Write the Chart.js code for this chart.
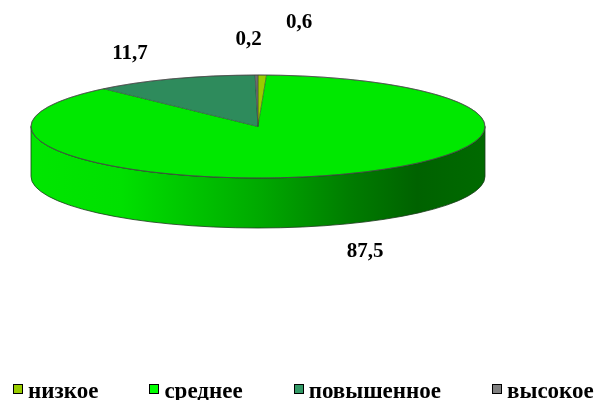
<!DOCTYPE html>
<html>
<head>
<meta charset="utf-8">
<script src="https://cdn.jsdelivr.net/npm/chart.js@4/dist/chart.umd.min.js"></script>
<style>
html,body{margin:0;padding:0;background:#fff;overflow:hidden;}
#wrap{width:596px;height:400px;position:relative;overflow:hidden;}
#legend{position:absolute;left:13px;top:379px;display:flex;gap:51px;white-space:nowrap;
  font:bold 23px/23px "Liberation Serif","Times New Roman",serif;color:#000;}
#legend .box{display:inline-block;width:8px;height:8px;border:1px solid #000;vertical-align:4px;margin-right:5px;}
</style>
</head>
<body>
<div id="wrap"><canvas id="c" width="596" height="400"></canvas><div id="legend"></div></div>
<script>
const categories = ['низкое', 'среднее', 'повышенное', 'высокое'];
const values = [0.6, 87.5, 11.7, 0.2];
const valueLabels = ['0,6', '87,5', '11,7', '0,2'];

const topColors = ['#99cc00', '#00e800', '#2e8b5c', '#6e6e6e'];
const legendColors = ['#99cc00', '#00ff00', '#339966', '#808080'];

const GEO = { cx: 258, cy: 126.5, rx: 227, ry: 51.5, depth: 50 };
const LABEL_POS = [[299, 23], [365, 252], [130, 54], [248.5, 39.5]];

const pie3d = {
  id: 'pie3d',
  beforeDatasetsDraw(chart) {
    const ctx = chart.ctx;
    const arcs = chart.getDatasetMeta(0).data;
    const { cx, cy, rx, ry, depth } = GEO;
    arcs.forEach((arc) => {
      const a1 = Math.max(arc.startAngle, 0);
      const a2 = Math.min(arc.endAngle, Math.PI);
      if (a2 <= a1) return;
      const g = ctx.createLinearGradient(cx - rx, 0, cx + rx, 0);
      g.addColorStop(0, '#00e600');
      g.addColorStop(0.2, '#00e000');
      g.addColorStop(0.5, '#00aa00');
      g.addColorStop(0.7, '#007d00');
      g.addColorStop(0.85, '#006200');
      g.addColorStop(1, '#006a00');
      ctx.save();
      ctx.beginPath();
      ctx.moveTo(cx + rx * Math.cos(a1), cy + ry * Math.sin(a1));
      ctx.ellipse(cx, cy, rx, ry, 0, a1, a2, false);
      ctx.lineTo(cx + rx * Math.cos(a2), cy + ry * Math.sin(a2) + depth);
      ctx.ellipse(cx, cy + depth, rx, ry, 0, a2, a1, true);
      ctx.closePath();
      ctx.fillStyle = g;
      ctx.fill();
      ctx.lineWidth = 0.8;
      ctx.strokeStyle = '#1a3a1a';
      ctx.stroke();
      ctx.restore();
    });
    const a0 = arcs[0];
    const R = a0.outerRadius;
    ctx.save();
    ctx.translate(cx, cy);
    ctx.scale(rx / R, ry / R);
    ctx.translate(-a0.x, -a0.y);
  },
  afterDatasetsDraw(chart) {
    const ctx = chart.ctx;
    ctx.restore();
    const { cx, cy, rx, ry } = GEO;
    ctx.save();
    ctx.beginPath();
    ctx.ellipse(cx, cy, rx, ry, 0, 0, Math.PI * 2);
    ctx.lineWidth = 0.8;
    ctx.strokeStyle = '#4a4a4a';
    ctx.stroke();
    ctx.restore();
  },
  afterDraw(chart) {
    const ctx = chart.ctx;
    ctx.save();
    ctx.font = 'bold 21px "Liberation Serif", "Times New Roman", serif';
    ctx.fillStyle = '#000';
    ctx.textAlign = 'center';
    ctx.textBaseline = 'middle';
    valueLabels.forEach((t, i) => {
      ctx.fillText(t, LABEL_POS[i][0], LABEL_POS[i][1]);
    });
    ctx.restore();
  }
};

const htmlLegend = {
  id: 'htmlLegend',
  afterUpdate(chart) {
    const el = document.getElementById('legend');
    el.innerHTML = '';
    const items = chart.options.plugins.legend.labels.generateLabels(chart);
    items.forEach((it) => {
      const span = document.createElement('span');
      const box = document.createElement('span');
      box.className = 'box';
      box.style.background = it.fillStyle;
      span.appendChild(box);
      span.appendChild(document.createTextNode(it.text));
      el.appendChild(span);
    });
  }
};

new Chart(document.getElementById('c'), {
  type: 'pie',
  data: {
    labels: categories,
    datasets: [{
      data: values,
      backgroundColor: topColors,
      borderColor: '#2a2a2a',
      borderWidth: 0.5,
      clip: false
    }]
  },
  options: {
    responsive: false,
    animation: false,
    layout: { padding: 10 },
    plugins: {
      tooltip: { enabled: false },
      legend: {
        display: false,
        labels: {
          generateLabels(chart) {
            return categories.map((c, i) => ({
              text: c,
              fillStyle: legendColors[i],
              strokeStyle: '#000',
              lineWidth: 1,
              hidden: false,
              index: i
            }));
          }
        }
      }
    }
  },
  plugins: [pie3d, htmlLegend]
});
</script>
</body>
</html>
